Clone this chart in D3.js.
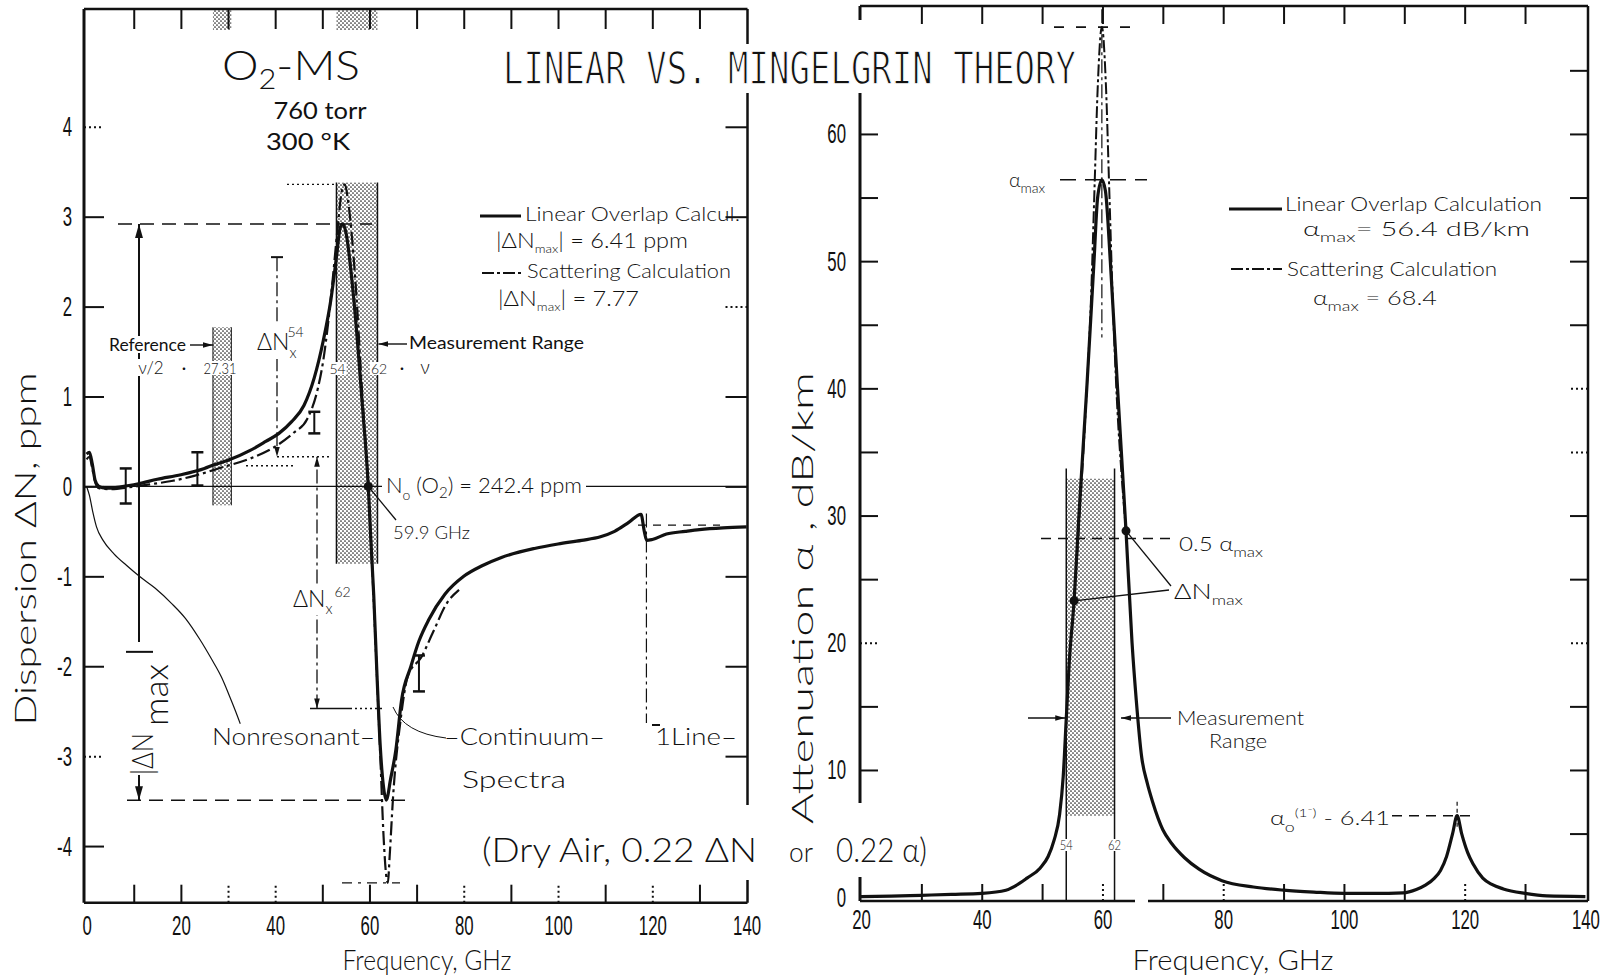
<!DOCTYPE html>
<html>
<head>
<meta charset="utf-8">
<script src="https://cdn.jsdelivr.net/npm/d3@7"></script>
<style>
  body { margin: 0; background: #fff; }
  svg { display: block; }
  text { font-family: "Lato", "DejaVu Sans", sans-serif; font-weight: 300; fill: #111; }
</style>
</head>
<body>
<svg id="chart" width="1615" height="979"></svg>
<script>
// ---------- Dispersion (left panel) ----------
const linFreqL = [0,0.6,1.2,1.8,2.6,4,6.5,9,11,15,20,25,27,30,34.7,38,40.8,43.5,46.1,48.3,50.2,51.8,53,53.8,54.3,54.9,56.7,58.5,59.75,60.3,60.9,61.6,62.3,63,63.55,64.5,65.6,66.8,68.8,70.5,72.6,76,80,84,88,95,100,105,109,112,115,117.6,118.3,118.8,120,123,127,130,135,140];
const linDispL = [0.36,0.38,0.25,0.07,0,-0.02,-0.01,0.01,0.03,0.08,0.13,0.2,0.24,0.29,0.4,0.5,0.59,0.72,0.9,1.21,1.62,2.07,2.55,2.88,2.92,2.85,2.07,0.9,0,-0.6,-1.2,-2.1,-2.9,-3.35,-3.49,-3.25,-2.93,-2.38,-2.0,-1.72,-1.48,-1.2,-1.0,-0.88,-0.79,-0.69,-0.64,-0.6,-0.56,-0.5,-0.4,-0.31,-0.5,-0.6,-0.59,-0.53,-0.5,-0.48,-0.46,-0.45];

const scatFreqL = [0,0.6,1.2,1.8,2.6,5,9,13,18,23,28.6,34.7,40.8,44,46.8,49.1,50.2,51.2,52.2,53.2,54.2,54.8,55.4,57,58.5,59.75,60.5,61.5,62.3,63,63.6,63.9,64.3,65,66.6,68.2,71,73.5,76.4,79];
const scatDispL = [0.3,0.33,0.2,0.05,-0.02,-0.03,-0.01,0.02,0.06,0.12,0.21,0.31,0.47,0.6,0.75,1.1,1.4,1.8,2.3,2.85,3.3,3.36,3.2,2.3,1.0,0,-0.8,-2.0,-3.0,-3.9,-4.35,-4.41,-4.1,-3.46,-2.6,-2.1,-1.9,-1.62,-1.3,-1.15];

const nonresFreq = [0,0.6,1.3,2.1,3.5,5.8,8.5,11.2,14.5,18,21,24,26.5,28.6,30.3,31.6,32.6];
const nonresDisp = [0,-0.1,-0.28,-0.45,-0.6,-0.75,-0.88,-1.0,-1.13,-1.3,-1.47,-1.7,-1.92,-2.12,-2.33,-2.5,-2.64];

const errFreq = [8.3, 23.5, 48.3, 70.5];
const errLow  = [-0.19, 0.01, 0.59, -2.28];
const errHigh = [0.2, 0.38, 0.83, -1.88];

const refBandL = [26.8, 30.7];   const refBandDisp = [-0.21, 1.77];
const measBandL = [53.0, 61.7];  const measBandDisp = [-0.86, 3.38];

const linMaxDisp = 2.92, linMinDisp = -3.49;     // |dN max| = 6.41 ppm
const scatMaxDisp = 3.36, scatMinDisp = -4.41;   // |dN max| = 7.77
const zeroCross = 59.75;

// ---------- Attenuation (right panel) ----------
const linFreqR = [20,25,30,35,40,44,46.3,47.5,49.7,51,52,52.9,53.5,54,54.5,55.3,56.1,57.4,58.6,59.2,59.9,60.5,61.3,62.5,63.9,64.9,65.6,66.5,67.4,68.3,70,71.5,73.6,76,79.8,85,90,95,100,105,109.8,112,113.5,115,116,117,118,118.75,119.5,120.5,121.4,123,124.5,126.4,130,133.6,140];
const linAttR  = [0.05,0.08,0.15,0.22,0.3,0.55,1.1,1.5,2.3,3.2,4.5,6.5,9.5,14,18.5,23.3,30,40,50,55,56.4,55.5,50,40,28.8,20,15.5,11,9,7.5,5.3,4.2,3.1,2.2,1.3,0.8,0.55,0.4,0.3,0.3,0.34,0.6,0.94,1.5,2.1,3.2,5.0,6.41,5.0,3.5,2.6,1.5,1.0,0.65,0.3,0.1,0.05];

const scatFreqR = [55.3,56.2,57.3,58.1,58.7,59.2,59.9,60.6,61.1,61.7,62.4,63.2,63.9];
const scatAttR  = [23.3,30,39,47,56,63.5,68.4,63.5,56,47,39,33,28.8];

const alphaMaxLin = 56.4, alphaMaxScat = 68.4, alphaLine118 = 6.41;
const peakFreq = 59.9, line118Freq = 118.75;
const halfMax = 28.2;
const dnMaxPoints = [[55.3, 23.3], [63.9, 28.8]];
const measBandR = [54, 62];  const measBandAtt = [6.4, 32.9];

// ---------- ticks ----------
const ticksXL = d3.range(0, 141, 10);
const ticksYL = d3.range(-4, 5, 1);
const ticksXR = d3.range(20, 141, 10);
const ticksYR = d3.range(0, 66, 5);
const dottedXL = [30, 40, 80, 100, 120];
const dottedXR = [60, 80, 120];

// ---------- scales ----------
const xL = d3.scaleLinear().domain([0, 140]).range([86.6, 746.6]);
const yL = d3.scaleLinear().domain([-4.63, 5.31]).range([902.7, 9]);
const xR = d3.scaleLinear().domain([20, 140]).range([861, 1585.4]);
const yR = d3.scaleLinear().domain([-0.3, 69.9]).range([901, 8]);

const L = {x0: 84, x1: 747.5, y0: 9, y1: 902.7};
const R = {x0: 860, x1: 1588, y0: 6, y1: 901};

const svg = d3.select("#chart");
svg.append("rect").attr("width", 1615).attr("height", 979).attr("fill", "#fff");
const defs = svg.append("defs");

const pat = defs.append("pattern").attr("id", "stip").attr("width", 4).attr("height", 4)
  .attr("patternUnits", "userSpaceOnUse");
pat.append("rect").attr("width", 4).attr("height", 4).attr("fill", "#fff");
pat.append("circle").attr("cx", 1).attr("cy", 1).attr("r", 0.85).attr("fill", "#222");
pat.append("circle").attr("cx", 3).attr("cy", 3).attr("r", 0.85).attr("fill", "#222");

defs.append("marker").attr("id", "arrow").attr("viewBox", "0 0 16 10")
  .attr("refX", 16).attr("refY", 5).attr("markerWidth", 14).attr("markerHeight", 9)
  .attr("markerUnits", "userSpaceOnUse").attr("orient", "auto-start-reverse")
  .append("path").attr("d", "M0,0.5 L16,5 L0,9.5 Z").attr("fill", "#111");
defs.append("marker").attr("id", "arrowS").attr("viewBox", "0 0 16 10")
  .attr("refX", 16).attr("refY", 5).attr("markerWidth", 10).attr("markerHeight", 7)
  .attr("markerUnits", "userSpaceOnUse").attr("orient", "auto-start-reverse")
  .append("path").attr("d", "M0,0.5 L16,5 L0,9.5 Z").attr("fill", "#111");

const DASHDOT = "14,4,3,4";
const DASHED = "14,8";

function seg(g, x1, y1, x2, y2, o = {}) {
  const l = g.append("line").attr("x1", x1).attr("y1", y1).attr("x2", x2).attr("y2", y2)
    .attr("stroke", "#111").attr("stroke-width", o.w || 1.5);
  if (o.dash) l.attr("stroke-dasharray", o.dash);
  if (o.end) l.attr("marker-end", `url(#${o.end})`);
  if (o.start) l.attr("marker-start", `url(#${o.start})`);
  return l;
}

function addText(g, x, y, parts, o = {}) {
  const t = g.append("text").attr("x", x).attr("y", y)
    .attr("font-size", o.size || 18).attr("text-anchor", o.anchor || "start");
  if (o.family) t.style("font-family", o.family);
  if (o.weight) t.style("font-weight", o.weight);
  if (o.transform) t.attr("transform", o.transform);
  parts.forEach(p => {
    if (typeof p === "string") { t.append("tspan").text(p); return; }
    const s = t.append("tspan").text(p.t);
    if (p.dy) s.attr("dy", p.dy);
    if (p.dx) s.attr("dx", p.dx);
    if (p.size) s.attr("font-size", p.size);
  });
  if (o.len) t.attr("textLength", o.len).attr("lengthAdjust", "spacingAndGlyphs");
  if (o.bg !== undefined) {
    const b = t.node().getBBox();
    g.insert("rect", () => t.node())
      .attr("x", b.x - o.bg).attr("y", b.y + 2).attr("width", b.width + 2 * o.bg)
      .attr("height", b.height - 4).attr("fill", "#fff");
  }
  return t;
}

function styleTicks(sel, dotted, pad, side) {
  sel.select(".domain").remove();
  sel.selectAll(".tick line").attr("stroke", "#111").attr("stroke-width", 2)
    .attr("stroke-dasharray", d => dotted.includes(d) ? "2,3" : null);
  sel.selectAll(".tick text").style("font-family", "'Liberation Sans', sans-serif")
    .style("font-weight", 400).attr("font-size", 28).attr("fill", "#111");
  if (side === "left") {
    sel.selectAll(".tick text").attr("x", 0).attr("transform", `translate(${-pad},0) scale(0.6,1)`);
  } else if (side === "bottom") {
    sel.selectAll(".tick text").attr("transform", "scale(0.6,1)");
  }
}

// ================= LEFT PANEL =================
const gL = svg.append("g");

// stippled ranges
[[refBandL, refBandDisp], [measBandL, measBandDisp]].forEach(([bx, by]) => {
  gL.append("rect").attr("x", xL(bx[0])).attr("y", yL(by[1]))
    .attr("width", xL(bx[1]) - xL(bx[0])).attr("height", yL(by[0]) - yL(by[1]))
    .attr("fill", "url(#stip)");
  gL.append("rect").attr("x", xL(bx[0])).attr("y", L.y0)
    .attr("width", xL(bx[1]) - xL(bx[0])).attr("height", 21)
    .attr("fill", "url(#stip)");
});
measBandL.forEach(f => seg(gL, xL(f), yL(measBandDisp[1]), xL(f), yL(measBandDisp[0]), {w: 1.5}));
refBandL.forEach(f => seg(gL, xL(f), yL(refBandDisp[1]), xL(f), yL(refBandDisp[0]), {w: 1}));

// axes
gL.append("g").attr("transform", `translate(0,${L.y1})`)
  .call(d3.axisBottom(xL).tickValues(ticksXL).tickSize(-18).tickPadding(12)
    .tickFormat(d => d % 20 === 0 ? d : ""))
  .call(s => styleTicks(s, dottedXL, 12, "bottom"))
  .call(s => s.selectAll(".tick line").filter(d => d === 0 || d === 140).remove());
gL.append("g").attr("transform", `translate(0,${L.y0})`)
  .call(d3.axisTop(xL).tickValues(ticksXL.filter(d => d > 0 && d < 140)).tickSize(-20).tickFormat(""))
  .call(s => styleTicks(s, [], 0, "top"));
gL.append("g").attr("transform", `translate(${L.x0},0)`)
  .call(d3.axisLeft(yL).tickValues(ticksYL).tickSize(-20).tickPadding(12)
    .tickFormat(d => d < 0 ? "-" + (-d) : d))
  .call(s => styleTicks(s, [4, -3], 12, "left"));
gL.append("g").attr("transform", `translate(${L.x1},0)`)
  .call(d3.axisRight(yL).tickValues(ticksYL).tickSize(-22).tickFormat(""))
  .call(s => styleTicks(s, [2], 0, "right"));

// frame
seg(gL, L.x0, L.y0, L.x0, L.y1, {w: 3});
seg(gL, L.x0, L.y1, L.x1, L.y1, {w: 2.5});
seg(gL, L.x0, L.y0, L.x1, L.y0, {w: 2.5});
seg(gL, L.x1, L.y0, L.x1, L.y1, {w: 2.5});

// zero line
seg(gL, L.x0, yL(0), L.x1, yL(0), {w: 1.4});

// curves
const lineL = d3.line().x(d => xL(d[0])).y(d => yL(d[1])).curve(d3.curveMonotoneX);
gL.append("path").datum(d3.zip(nonresFreq, nonresDisp)).attr("d", lineL)
  .attr("fill", "none").attr("stroke", "#111").attr("stroke-width", 1.2);
gL.append("path").datum(d3.zip(scatFreqL, scatDispL)).attr("d", lineL)
  .attr("fill", "none").attr("stroke", "#111").attr("stroke-width", 2.2)
  .attr("stroke-dasharray", DASHDOT);
gL.append("path").datum(d3.zip(linFreqL, linDispL)).attr("d", lineL)
  .attr("fill", "none").attr("stroke", "#111").attr("stroke-width", 3.2)
  .attr("stroke-linejoin", "round");

// error bars
errFreq.forEach((f, i) => {
  const x = xL(f);
  seg(gL, x, yL(errHigh[i]), x, yL(errLow[i]), {w: 2});
  seg(gL, x - 6, yL(errHigh[i]), x + 6, yL(errHigh[i]), {w: 2.5});
  seg(gL, x - 6, yL(errLow[i]), x + 6, yL(errLow[i]), {w: 2.5});
});

// |dN max| construction
const xArrow = 139;
seg(gL, 118, yL(linMaxDisp), 372, yL(linMaxDisp), {dash: DASHED, w: 1.5});
seg(gL, 127, yL(linMinDisp), 405, yL(linMinDisp), {dash: DASHED, w: 1.5});
seg(gL, xArrow, yL(-1.73), xArrow, yL(linMaxDisp), {w: 2, end: "arrow"});
seg(gL, 126, yL(-1.84), 153, yL(-1.84), {w: 2});
seg(gL, xArrow, 775, xArrow, yL(linMinDisp), {w: 2, end: "arrow"});
seg(gL, 287, yL(scatMaxDisp), xL(measBandL[0]), yL(scatMaxDisp), {dash: "2,3", w: 1.2});
seg(gL, 342, yL(scatMinDisp), 400, yL(scatMinDisp), {dash: "10,6,3,6", w: 1.2});

// dN_x^54 and dN_x^62 markers
const x54 = 277, x62 = 317;
seg(gL, x54, yL(2.55), x54, yL(0.33), {dash: DASHDOT, w: 1.3, end: "arrowS"});
seg(gL, x54 - 6, yL(2.55), x54 + 6, yL(2.55), {w: 2});
seg(gL, x54, yL(0.33), 330, yL(0.33), {dash: "2,3", w: 1.3});
seg(gL, 246, yL(0.23), 293, yL(0.23), {dash: "2,3", w: 1.3});
seg(gL, x62, yL(-2.47), x62, yL(0.33), {dash: DASHDOT, w: 1.3, end: "arrowS"});
seg(gL, x62, yL(0.33), x62, yL(-2.47), {w: 0.01, end: "arrowS"});
seg(gL, 310, yL(-2.47), 350, yL(-2.47), {w: 1.6});
seg(gL, 350, yL(-2.47), 382, yL(-2.47), {dash: "2,3", w: 1.3});

// 1- line marker
seg(gL, xL(line118Freq), yL(-0.3), xL(line118Freq), yL(-2.63), {dash: DASHDOT, w: 1.2});
seg(gL, 638, yL(-0.43), 720, yL(-0.43), {dash: "8,7", w: 1.2});

// zero crossing point
gL.append("circle").attr("cx", xL(zeroCross)).attr("cy", yL(0)).attr("r", 4.5).attr("fill", "#111");
seg(gL, xL(zeroCross), yL(0), 396, 520, {w: 1.3});

// continuum leader
gL.append("path").attr("d", "M393,707 Q404,733 446,738").attr("fill", "none")
  .attr("stroke", "#111").attr("stroke-width", 1);

// range arrows
seg(gL, 190, 345, xL(refBandL[0]), 345, {w: 1.4, end: "arrowS"});
seg(gL, 407, 344, xL(measBandL[1]) + 1, 344, {w: 1.4, end: "arrowS"});

// legend samples
seg(gL, 480, 216, 521, 216, {w: 3});
seg(gL, 482, 273, 523, 273, {w: 2.2, dash: "12,3,3,3"});

// ---- left texts ----
addText(gL, 222, 80, ["O", {t: "2", dy: 9, size: 28}, {t: "-MS", dy: -9}], {size: 42, len: 138});
addText(gL, 320, 119, ["760 torr"], {size: 23, anchor: "middle", len: 93, weight: 400});
addText(gL, 308, 150, ["300 °K"], {size: 23, anchor: "middle", len: 84, weight: 400});

addText(gL, 525, 221, ["Linear Overlap Calcul."], {size: 20, len: 215});
addText(gL, 496, 248, ["|ΔN", {t: "max", dy: 5, size: 12}, {t: "| = 6.41 ppm", dy: -5}], {size: 21, len: 192});
addText(gL, 527, 278, ["Scattering Calculation"], {size: 20, len: 204});
addText(gL, 498, 306, ["|ΔN", {t: "max", dy: 5, size: 12}, {t: "| = 7.77", dy: -5}], {size: 21, len: 141});

addText(gL, 109, 351, ["Reference"], {size: 17, len: 77, bg: 3, weight: 400});
addText(gL, 151, 374, ["ν/2"], {size: 17, anchor: "middle", bg: 3});
addText(gL, 184, 374, ["·"], {size: 17, anchor: "middle", weight: 400});
addText(gL, 220, 374, ["27.31"], {size: 15, anchor: "middle", len: 33, bg: 1});
addText(gL, 257, 350, ["ΔN", {t: "x", dy: 8, size: 15}, {t: "54", dx: -9, dy: -21, size: 14}], {size: 23, bg: 2});
addText(gL, 409, 349, ["Measurement Range"], {size: 17, len: 175, weight: 400});
addText(gL, 337.5, 374, ["54"], {size: 14, anchor: "middle", bg: 1});
addText(gL, 379, 374, ["62"], {size: 14, anchor: "middle", bg: 1});
addText(gL, 402, 374, ["·"], {size: 17, anchor: "middle", weight: 400});
addText(gL, 425, 374, ["ν"], {size: 19, anchor: "middle"});

addText(gL, 386, 493, ["N", {t: "o", dy: 7, size: 14}, {t: " (O", dy: -7}, {t: "2", dy: 5, size: 15}, {t: ") = 242.4 ppm", dy: -5}], {size: 22, len: 196, bg: 4});
addText(gL, 393, 539, ["59.9 GHz"], {size: 17, len: 77});
addText(gL, 293, 607, ["ΔN", {t: "x", dy: 7, size: 15}, {t: "62", dx: 2, dy: -17, size: 14}], {size: 23, bg: 2});

addText(gL, 212, 745, ["Nonresonant–"], {size: 23, len: 163});
addText(gL, 444, 745, ["–Continuum–"], {size: 23, len: 161});
addText(gL, 462, 788, ["Spectra"], {size: 23, len: 104});
addText(gL, 655, 745, ["1Line–"], {size: 23, len: 82});
seg(gL, 652, 725, 660, 725, {w: 2});   // overbar of the 1- label

// rotated |dN max| label
addText(gL, 0, 0, ["|ΔN"], {size: 29, anchor: "middle", len: 42, transform: "translate(153,754) rotate(-90)"});
addText(gL, 0, 0, ["max"], {size: 33, anchor: "middle", len: 62, transform: "translate(168,695) rotate(-90)"});

addText(gL, 0, 0, ["Dispersion ΔN, ppm"], {size: 29, anchor: "middle", len: 353, transform: "translate(36,549) rotate(-90)"});
addText(gL, 427, 970, ["Frequency, GHz"], {size: 27, anchor: "middle", len: 169});

// ================= RIGHT PANEL =================
const gR = svg.append("g");

gR.append("rect").attr("x", xR(measBandR[0])).attr("y", yR(measBandAtt[1]))
  .attr("width", xR(measBandR[1]) - xR(measBandR[0]))
  .attr("height", yR(measBandAtt[0]) - yR(measBandAtt[1])).attr("fill", "url(#stip)");
measBandR.forEach(f => seg(gR, xR(f), R.y1, xR(f), yR(measBandAtt[1] + 0.8), {w: 1.5}));

gR.append("g").attr("transform", `translate(0,${R.y1})`)
  .call(d3.axisBottom(xR).tickValues(ticksXR).tickSize(-17).tickPadding(8)
    .tickFormat(d => d % 20 === 0 ? d : ""))
  .call(s => styleTicks(s, dottedXR, 8, "bottom"))
  .call(s => s.selectAll(".tick line").filter(d => d === 20 || d === 140).remove());
gR.append("g").attr("transform", `translate(0,${R.y0})`)
  .call(d3.axisTop(xR).tickValues(ticksXR.filter(d => d > 20 && d < 140)).tickSize(-18).tickFormat(""))
  .call(s => styleTicks(s, [], 0, "top"));
gR.append("g").attr("transform", `translate(${R.x0},0)`)
  .call(d3.axisLeft(yR).tickValues(ticksYR).tickSize(-18).tickPadding(14)
    .tickFormat(d => d % 10 === 0 ? d : ""))
  .call(s => styleTicks(s, [20], 14, "left"))
  .call(s => s.selectAll(".tick line").filter(d => d === 0).remove());
gR.append("g").attr("transform", `translate(${R.x1},0)`)
  .call(d3.axisRight(yR).tickValues(ticksYR.filter(d => d > 0)).tickSize(-18).tickFormat(""))
  .call(s => styleTicks(s, [20, 35, 40], 0, "right"));

seg(gR, R.x0, R.y0, R.x0, R.y1, {w: 3});
seg(gR, R.x0, R.y1, 1135, R.y1, {w: 2.5});
seg(gR, 1148, R.y1, R.x1, R.y1, {w: 2.5});
seg(gR, R.x0, R.y0, R.x1, R.y0, {w: 2.5});
seg(gR, R.x1, R.y0, R.x1, R.y1, {w: 2.5});

const lineR = d3.line().x(d => xR(d[0])).y(d => yR(d[1])).curve(d3.curveMonotoneX);
// centre marker of the 60 GHz complex
seg(gR, xR(peakFreq), yR(69.8), xR(peakFreq), yR(44), {dash: DASHDOT, w: 1.2});
gR.append("path").datum(d3.zip(scatFreqR, scatAttR)).attr("d", lineR)
  .attr("fill", "none").attr("stroke", "#111").attr("stroke-width", 2)
  .attr("stroke-dasharray", "12,3,3,3");
gR.append("path").datum(d3.zip(linFreqR, linAttR)).attr("d", lineR)
  .attr("fill", "none").attr("stroke", "#111").attr("stroke-width", 3.2)
  .attr("stroke-linejoin", "round");

// alpha max markers
seg(gR, 1054, yR(alphaMaxScat), 1142, yR(alphaMaxScat), {dash: "10,12", w: 1.6});
seg(gR, 1060, yR(alphaMaxLin), 1147, yR(alphaMaxLin), {dash: "16,9", w: 1.6});
seg(gR, 1041, yR(halfMax), 1174, yR(halfMax), {dash: "10,7", w: 1.5});

dnMaxPoints.forEach(p => gR.append("circle").attr("cx", xR(p[0])).attr("cy", yR(p[1]))
  .attr("r", 4.5).attr("fill", "#111"));
seg(gR, 1171, 586, xR(dnMaxPoints[1][0]), yR(dnMaxPoints[1][1]), {w: 1.3});
seg(gR, 1169, 590, xR(dnMaxPoints[0][0]), yR(dnMaxPoints[0][1]), {w: 1.3});

seg(gR, 1028, 718, xR(measBandR[0]) - 1, 718, {w: 1.5, end: "arrowS"});
seg(gR, 1171, 718, 1121, 718, {w: 1.5, end: "arrowS"});

seg(gR, 1392, yR(alphaLine118), 1475, yR(alphaLine118), {dash: "10,7", w: 1.5});
seg(gR, xR(line118Freq), yR(alphaLine118) - 14, xR(line118Freq), yR(alphaLine118) + 12, {dash: "4,3", w: 1.2});

seg(gR, 1229, 209, 1282, 209, {w: 3.2});
seg(gR, 1231, 269, 1282, 269, {w: 2, dash: "12,3,3,3"});

// ---- right texts ----
addText(gR, 1009, 187, ["α", {t: "max", dy: 6, size: 14}], {size: 20});
addText(gR, 1285, 211, ["Linear Overlap Calculation"], {size: 20, len: 257});
addText(gR, 1303, 236, ["α", {t: "max", dy: 6, size: 14}, {t: "= 56.4   dB/km", dy: -6}], {size: 20, len: 227});
addText(gR, 1287, 276, ["Scattering Calculation"], {size: 20, len: 210});
addText(gR, 1313, 305, ["α", {t: "max", dy: 6, size: 14}, {t: " = 68.4", dy: -6}], {size: 20, len: 124});
addText(gR, 1179, 551, ["0.5 α", {t: "max", dy: 6, size: 14}], {size: 20, len: 84});
addText(gR, 1174, 599, ["ΔN", {t: "max", dy: 6, size: 14}], {size: 21, len: 69});
addText(gR, 1177, 725, ["Measurement"], {size: 19, len: 127});
addText(gR, 1209, 748, ["Range"], {size: 19, len: 58});
addText(gR, xR(measBandR[0]), 850, ["54"], {size: 13, anchor: "middle", len: 13, bg: 1});
addText(gR, xR(measBandR[1]), 850, ["62"], {size: 13, anchor: "middle", len: 13, bg: 1});
addText(gR, 1270, 825, ["α", {t: "o", dy: 7, size: 14}, {t: "(1⁻)", dy: -15, size: 12}, {t: " - 6.41", dy: 8}], {size: 20, len: 120});

addText(gR, 0, 0, ["Attenuation  α , dB/km"], {size: 29, anchor: "middle", len: 452, transform: "translate(813,598) rotate(-90)"});
addText(gR, 1233, 970, ["Frequency, GHz"], {size: 27, anchor: "middle", len: 201});

// ================= SHARED TEXT =================
// breaks in the frames where the lettering crosses them
svg.append("rect").attr("x", 852).attr("y", 20).attr("width", 16).attr("height", 70).attr("fill", "#fff");
svg.append("rect").attr("x", 722).attr("y", 805).attr("width", 34).attr("height", 75).attr("fill", "#fff");
svg.append("rect").attr("x", 848).attr("y", 803).attr("width", 36).attr("height", 74).attr("fill", "#fff");

addText(svg, 503, 84, ["LINEAR  VS.  MINGELGRIN THEORY"], {size: 45, family: "'DejaVu Sans Mono', monospace", weight: 400, len: 573, bg: 4})
  .attr("stroke", "#fff").attr("stroke-width", 1.3);
addText(svg, 482, 862, ["(Dry Air, 0.22 ΔN"], {size: 34, len: 275});
addText(svg, 789, 862, ["or"], {size: 28, len: 24});
addText(svg, 836, 862, ["0.22 α)"], {size: 34, len: 91});
</script>
</body>
</html>
